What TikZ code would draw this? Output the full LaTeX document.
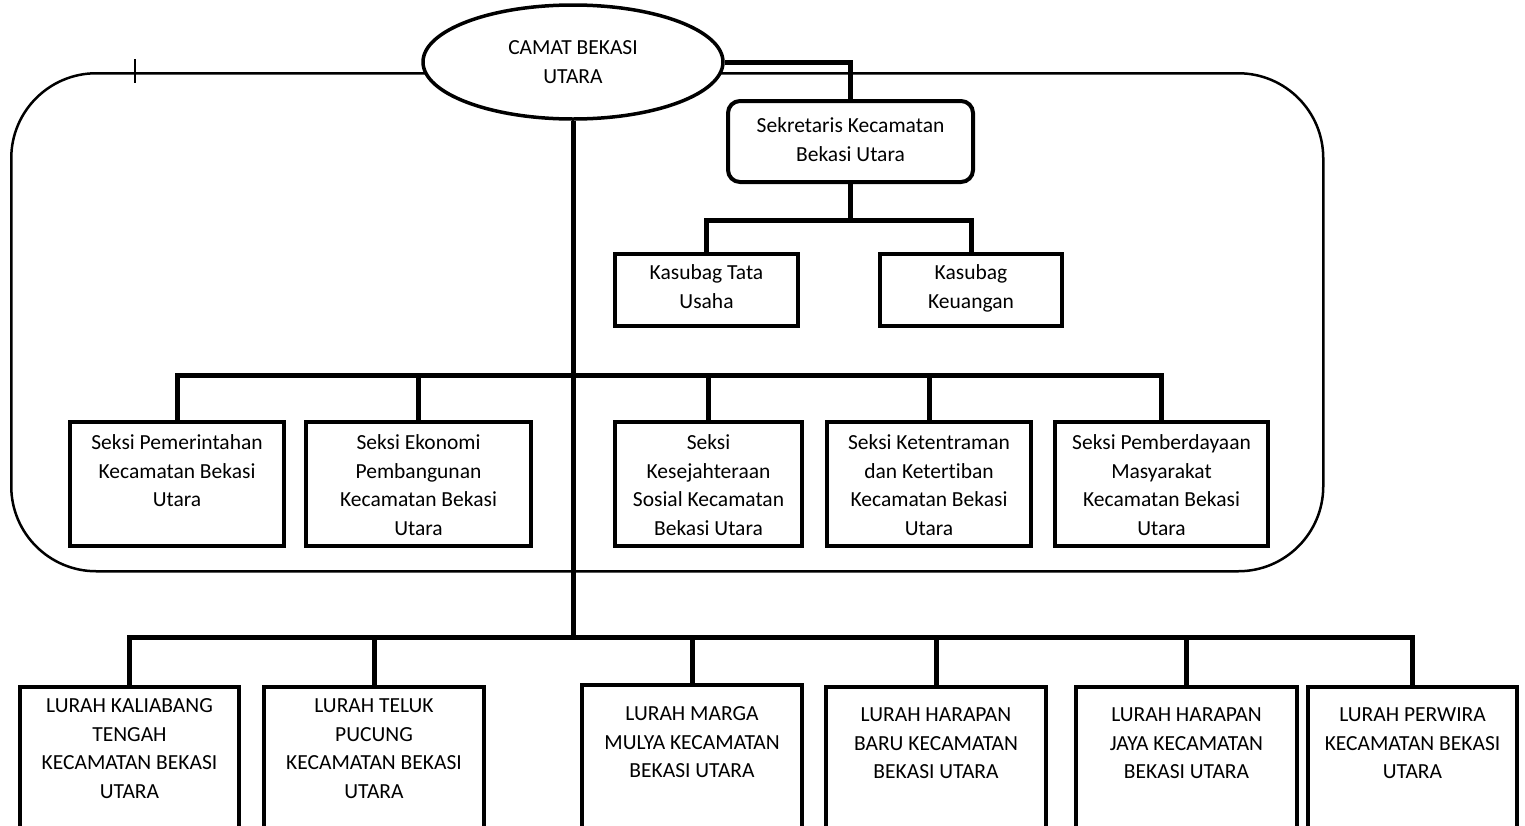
\documentclass[tikz,border=0pt]{standalone}
\usepackage{fontspec}
\setmainfont{Carlito}[Ligatures=NoCommon]
\usetikzlibrary{shapes,positioning}

\newcommand{\cell}[4]{\parbox[t][#2pt][t]{#1pt}{\centering\vspace*{#3pt}\strut#4}}

\begin{document}
\begin{tikzpicture}[x=1pt, y=-1pt, font=\fontsize{21.5}{28.5}\selectfont]
    \tikzstyle{block} = [rectangle, draw, line width=4pt, inner sep=0pt, anchor=north west]
    \tikzstyle{head} = [ellipse, draw, fill=white, line width=3.5pt, minimum width=300pt, minimum height=114pt, align=center]
    \tikzstyle{frame} = [rectangle, draw, line width=2.5pt, rounded corners=85pt, minimum width=1312pt, minimum height=498pt, anchor=north west]
    \tikzstyle{line} = [draw, line width=5pt]

    \useasboundingbox (0,0) rectangle (1525,825);
    \clip (0,0) rectangle (1525,825);

    % kecamatan frame
    \node[frame] (kecamatan) at (10,72) {};
    \draw[line width=2.5pt] (135,59) -- (135,83);

    \node[head] (camat) at (573,62) {CAMAT BEKASI\\UTARA};
    \node[block, rounded corners=12pt] (sekretaris) at (726,99) {\cell{245}{81}{12}{Sekretaris Kecamatan\\Bekasi Utara}};
    \node[block] (tatausaha) at (613,252) {\cell{183}{72}{6}{Kasubag Tata\\Usaha}};
    \node[block] (keuangan) at (878,252) {\cell{182}{72}{6}{Kasubag\\Keuangan}};

    % seksi
    \node[block] (pemerintahan) at (68,420) {\cell{214}{124}{8}{Seksi Pemerintahan\\Kecamatan Bekasi\\Utara}};
    \node[block] (ekonomi) at (304,420) {\cell{225}{124}{8}{Seksi Ekonomi\\Pembangunan\\Kecamatan Bekasi\\Utara}};
    \node[block] (kesejahteraan) at (613,420) {\cell{187}{124}{8}{Seksi\\Kesejahteraan\\Sosial Kecamatan\\Bekasi Utara}};
    \node[block] (ketentraman) at (825,420) {\cell{204}{124}{8}{Seksi Ketentraman\\dan Ketertiban\\Kecamatan Bekasi\\Utara}};
    \node[block] (pemberdayaan) at (1053,420) {\cell{213}{124}{8}{Seksi Pemberdayaan\\Masyarakat\\Kecamatan Bekasi\\Utara}};

    % lurah
    \node[block] (kaliabang) at (18,685) {\cell{219}{160}{6}{LURAH KALIABANG\\TENGAH\\KECAMATAN BEKASI\\UTARA}};
    \node[block] (telukpucung) at (262,685) {\cell{220}{160}{6}{LURAH TELUK\\PUCUNG\\KECAMATAN BEKASI\\UTARA}};
    \node[block] (margamulya) at (580,683) {\cell{220}{160}{16}{LURAH MARGA\\MULYA KECAMATAN\\BEKASI UTARA}};
    \node[block] (harapanbaru) at (824,685) {\cell{220}{160}{15}{LURAH HARAPAN\\BARU KECAMATAN\\BEKASI UTARA}};
    \node[block] (harapanjaya) at (1074,685) {\cell{221}{160}{15}{LURAH HARAPAN\\JAYA KECAMATAN\\BEKASI UTARA}};
    \node[block] (perwira) at (1306,685) {\cell{209}{160}{15}{LURAH PERWIRA\\KECAMATAN BEKASI\\UTARA}};

    \coordinate (sekbus) at (sekretaris.south |- 0,220);
    \coordinate (seksibus) at (573,375);
    \coordinate (lurahbus) at (573,637);

    \path[line] (camat.east) -| (sekretaris.north);
    \path[line] (sekretaris.south) -- (sekbus);
    \path[line] (tatausaha.north) |- (sekbus);
    \path[line] (keuangan.north) |- (sekbus);
    \path[line] (camat.south) -- (lurahbus);
    \foreach \s in {pemerintahan,ekonomi,kesejahteraan,ketentraman,pemberdayaan}
        \path[line] (\s.north) |- (seksibus);
    \foreach \l in {kaliabang,telukpucung,margamulya,harapanbaru,harapanjaya,perwira}
        \path[line] (\l.north) |- (lurahbus);
\end{tikzpicture}
\end{document}
